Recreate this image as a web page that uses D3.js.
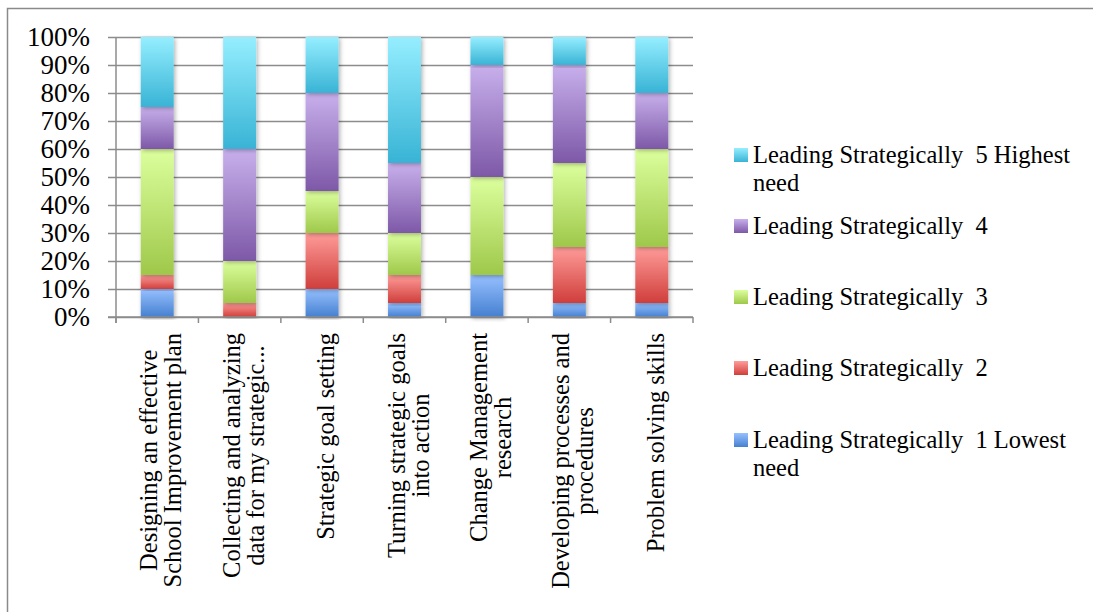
<!DOCTYPE html>
<html>
<head>
<meta charset="utf-8">
<script src="https://cdn.jsdelivr.net/npm/d3@7"></script>
<style>
  html, body { margin: 0; padding: 0; background: #fff; }
  svg { display: block; }
  text { font-family: "Liberation Serif", "DejaVu Serif", serif; fill: #000; }
</style>
</head>
<body>
<svg id="chart" width="1093" height="612"></svg>
<script>
// Survey categories (x axis), each label split into its wrapped lines
const categories = [
  ["Designing an effective", "School Improvement plan"],
  ["Collecting and analyzing", "data for my strategic..."],
  ["Strategic goal setting"],
  ["Turning strategic goals", "into action"],
  ["Change Management", "research"],
  ["Developing processes and", "procedures"],
  ["Problem solving skills"]
];

// Share of responses (%) for each need level, one value per category
const level1 = [10, 0, 10, 5, 15, 5, 5];
const level2 = [5, 5, 20, 10, 0, 20, 20];
const level3 = [45, 15, 15, 15, 35, 30, 35];
const level4 = [15, 40, 35, 25, 40, 35, 20];
const level5 = [25, 40, 20, 45, 10, 10, 20];

const seriesNames = [
  "Leading Strategically  1 Lowest need",
  "Leading Strategically  2",
  "Leading Strategically  3",
  "Leading Strategically  4",
  "Leading Strategically  5 Highest need"
];
const yTicks = [0, 10, 20, 30, 40, 50, 60, 70, 80, 90, 100];

// Gradient stops (top, bottom) per level
const palette = [
  ["#97c0ff", "#4580d0"],
  ["#ff9c99", "#cf3e3b"],
  ["#dcff9d", "#9ec84a"],
  ["#c8b0ec", "#7d58a7"],
  ["#95eeff", "#38b3d5"]
];

const svg = d3.select("#chart");
const defs = svg.append("defs");

palette.forEach((c, i) => {
  const g = defs.append("linearGradient")
    .attr("id", "grad" + i).attr("x1", 0).attr("y1", 0).attr("x2", 0).attr("y2", 1);
  g.append("stop").attr("offset", "0%").attr("stop-color", c[0]);
  g.append("stop").attr("offset", "100%").attr("stop-color", c[1]);
});

const shadow = defs.append("filter").attr("id", "shadow")
  .attr("x", "-30%").attr("y", "-5%").attr("width", "160%").attr("height", "115%");
shadow.append("feDropShadow").attr("dx", 1.5).attr("dy", 1.5)
  .attr("stdDeviation", 2).attr("flood-color", "#000").attr("flood-opacity", 0.3);

// Outer frame
svg.append("rect").attr("x", 7.5).attr("y", 8.5).attr("width", 1200).attr("height", 700)
  .attr("fill", "none").attr("stroke", "#8a8a8a").attr("stroke-width", 1.5);

const plotLeft = 116, plotRight = 693, plotTop = 37, plotBottom = 317;
const fontSize = 24.5;

const x = d3.scaleBand().domain(d3.range(categories.length))
  .range([plotLeft, plotRight]).paddingInner(0.6).paddingOuter(0.3);
const y = d3.scaleLinear().domain([0, 100]).range([plotBottom, plotTop]);

// Gridlines with y ticks extending left
const yAxis = d3.axisLeft(y).tickValues(yTicks).tickFormat(d => d + "%")
  .tickSize(-(plotRight - plotLeft)).tickSizeOuter(0).tickPadding(26);
const gy = svg.append("g").attr("transform", `translate(${plotLeft},0)`).call(yAxis);
gy.select(".domain").remove();
gy.selectAll(".tick line").attr("x1", -8).attr("stroke", "#8c8c8c").attr("stroke-width", 1.5);
gy.selectAll(".tick text").attr("font-size", 27).attr("font-family", "Liberation Serif")
  .attr("fill", "#000");

// Y axis line
svg.append("line").attr("x1", plotLeft).attr("x2", plotLeft).attr("y1", plotTop).attr("y2", plotBottom + 6)
  .attr("stroke", "#8c8c8c").attr("stroke-width", 1.5);

// Stacked bars
const series = [level1, level2, level3, level4, level5];
const rows = categories.map((c, i) => {
  const r = { idx: i };
  series.forEach((s, k) => { r["s" + k] = s[i]; });
  return r;
});
const stack = d3.stack().keys(series.map((s, k) => "s" + k));
const stacked = stack(rows);

const barLayer = svg.append("g");
stacked.forEach((layer, k) => {
  barLayer.append("g").selectAll("rect")
    .data(layer.filter(d => d[1] - d[0] > 0))
    .join("rect")
    .attr("x", d => x(d.data.idx))
    .attr("width", x.bandwidth())
    .attr("y", d => y(d[1]))
    .attr("height", d => y(d[0]) - y(d[1]))
    .attr("fill", `url(#grad${k})`)
    .attr("filter", "url(#shadow)");
});

// X axis baseline and category ticks
svg.append("line").attr("x1", plotLeft - 8).attr("x2", plotRight).attr("y1", plotBottom).attr("y2", plotBottom)
  .attr("stroke", "#8c8c8c").attr("stroke-width", 1.5);
const boundaries = d3.range(categories.length + 1)
  .map(i => plotLeft + i * (plotRight - plotLeft) / categories.length);
svg.append("g").selectAll("line").data(boundaries).join("line")
  .attr("x1", d => d).attr("x2", d => d).attr("y1", plotBottom).attr("y2", plotBottom + 6)
  .attr("stroke", "#8c8c8c").attr("stroke-width", 1.5);

// Rotated category labels: lines centred on each other, longest line starts at labelTop
const labelTop = 333;
const lineGap = 24;
categories.forEach((lines, i) => {
  const cx = x(i) + x.bandwidth() / 2;
  const g = svg.append("g");
  const texts = lines.map(t => g.append("text").attr("font-size", fontSize).text(t));
  const maxW = d3.max(texts, t => t.node().getComputedTextLength());
  const n = lines.length;
  texts.forEach((t, j) => {
    const offset = (j - (n - 1) / 2) * lineGap + 12;
    const px = cx + offset, py = labelTop + maxW / 2;
    t.attr("text-anchor", "middle")
      .attr("transform", `translate(${px},${py}) rotate(-90)`);
  });
});

// Legend (top to bottom: highest level first)
const legendY = [155, 226, 297, 368, 440];
const legendItems = d3.range(5).reverse();
legendItems.forEach((k, j) => {
  const g = svg.append("g").attr("transform", `translate(734,${legendY[j]})`);
  g.append("rect").attr("x", 0).attr("y", -7).attr("width", 14).attr("height", 14)
    .attr("fill", `url(#grad${k})`);
  const words = seriesNames[k];
  const t = g.append("text").attr("x", 19).attr("y", 7.5).attr("font-size", fontSize);
  const m = words.match(/^(Leading Strategically  \d(?: \w+)?)( need)?$/);
  t.append("tspan").attr("x", 19).attr("xml:space", "preserve").text(m[1]);
  if (m[2]) t.append("tspan").attr("x", 19).attr("dy", 28).text("need");
});
</script>
</body>
</html>
